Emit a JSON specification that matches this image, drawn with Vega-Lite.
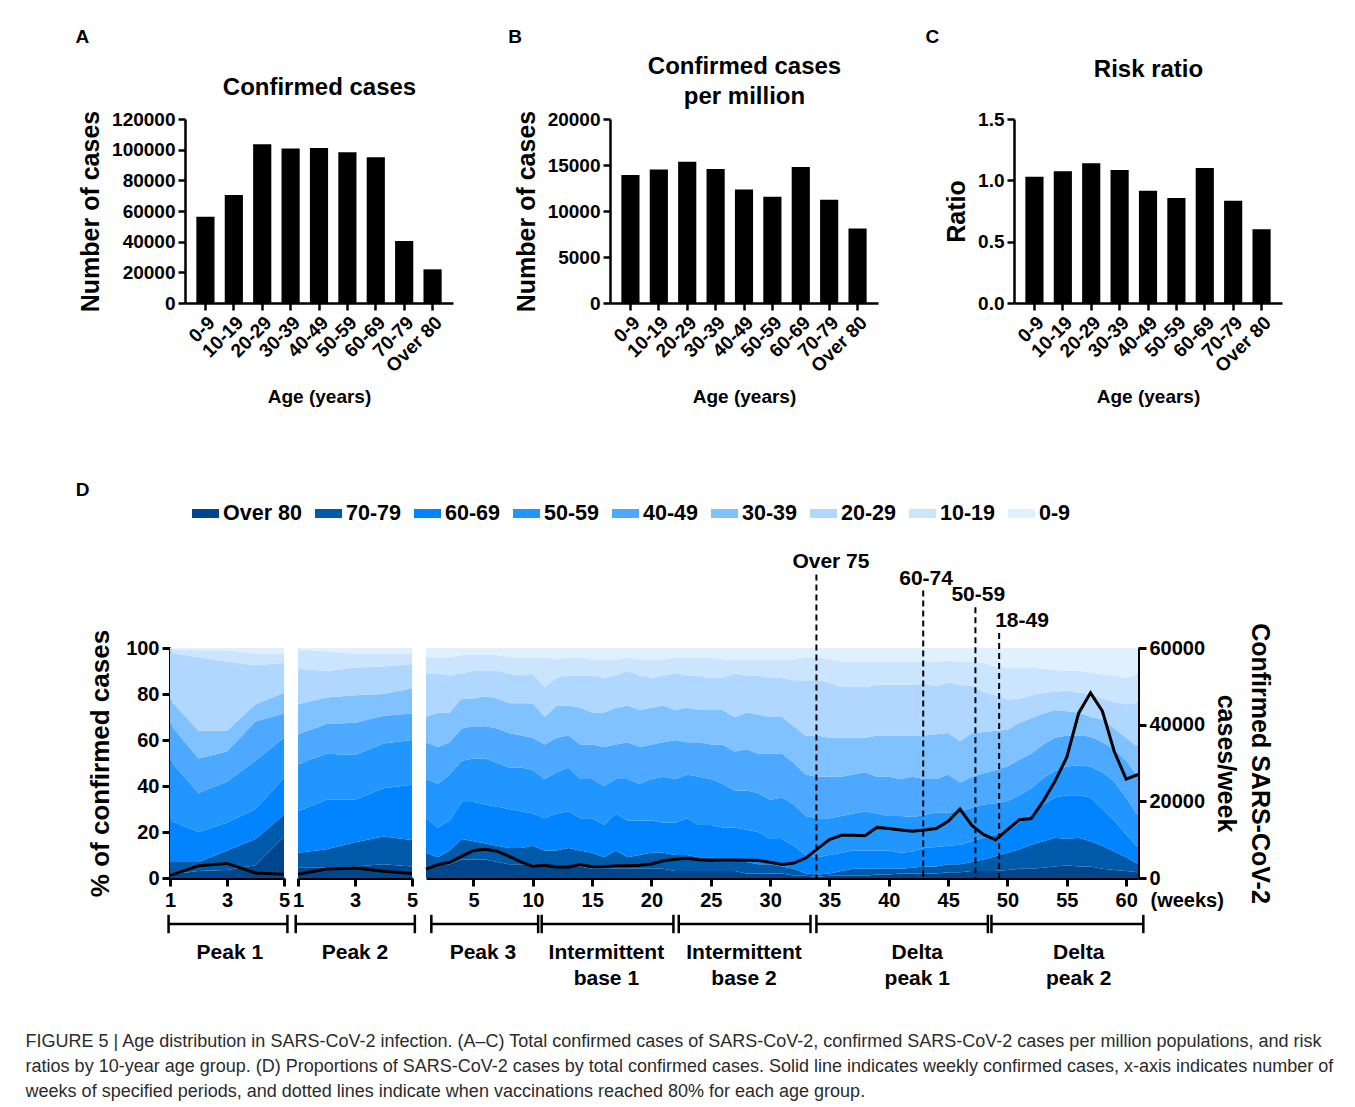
{
 "$schema": "https://vega.github.io/schema/vega-lite/v6.json",
 "background": "white",
 "padding": {"left": 25, "top": 28, "right": 5, "bottom": 5},
 "config": {
  "font": "Liberation Sans",
  "view": {"stroke": null},
  "axis": {"grid": false, "domainColor": "black", "domainWidth": 2.5, "tickColor": "black", "tickWidth": 2.5, "tickSize": 7, "labelFont": "Liberation Sans", "labelFontWeight": "bold", "labelColor": "black", "labelFontSize": 19, "labelFlush": false, "labelOverlap": false, "labelBound": false, "labelPadding": 3, "titleFont": "Liberation Sans", "titleFontWeight": "bold", "titleColor": "black"},
  "title": {"font": "Liberation Sans", "fontWeight": "bold", "color": "black", "fontSize": 19}
 },
 "title": {"text": ["FIGURE 5 | Age distribution in SARS-CoV-2 infection. (A–C) Total confirmed cases of SARS-CoV-2, confirmed SARS-CoV-2 cases per million populations, and risk", "ratios by 10-year age group. (D) Proportions of SARS-CoV-2 cases by total confirmed cases. Solid line indicates weekly confirmed cases, x-axis indicates number of", "weeks of specified periods, and dotted lines indicate when vaccinations reached 80% for each age group."], "orient": "bottom", "anchor": "start", "frame": "bounds", "fontSize": 18, "fontWeight": "normal", "color": "#2b2b2b", "lineHeight": 25, "offset": 44, "dx": -50},
 "datasets": {
  "ages": [
   {"age": "0-9", "cases": 56300, "pm": 13900, "rr": 1.03},
   {"age": "10-19", "cases": 70400, "pm": 14500, "rr": 1.075},
   {"age": "20-29", "cases": 103500, "pm": 15340, "rr": 1.14},
   {"age": "30-39", "cases": 100700, "pm": 14570, "rr": 1.085},
   {"age": "40-49", "cases": 101100, "pm": 12350, "rr": 0.915},
   {"age": "50-59", "cases": 98300, "pm": 11550, "rr": 0.855},
   {"age": "60-69", "cases": 95000, "pm": 14790, "rr": 1.1},
   {"age": "70-79", "cases": 40400, "pm": 11220, "rr": 0.833},
   {"age": "Over 80", "cases": 21960, "pm": 8090, "rr": 0.602}
  ],
  "shares": [
   {"s":"P1","w":1,"Over 80":1.5,"70-79":5.5,"60-69":18,"50-59":26,"40-49":16,"30-39":10.5,"20-29":20.5,"10-19":1.5,"0-9":0.5,"cases":700},
   {"s":"P1","w":2,"Over 80":3,"70-79":4,"60-69":13,"50-59":17,"40-49":15,"30-39":12,"20-29":32,"10-19":3,"0-9":1,"cases":3200},
   {"s":"P1","w":3,"Over 80":3.5,"70-79":8.5,"60-69":12,"50-59":18,"40-49":13,"30-39":9,"20-29":30,"10-19":5,"0-9":1,"cases":3800},
   {"s":"P1","w":4,"Over 80":5.5,"70-79":11.5,"60-69":13,"50-59":21,"40-49":17,"30-39":7.5,"20-29":17,"10-19":5,"0-9":2.5,"cases":1300},
   {"s":"P1","w":5,"Over 80":18,"70-79":9.5,"60-69":16,"50-59":17.5,"40-49":10.5,"30-39":9,"20-29":13,"10-19":4,"0-9":2.5,"cases":1000},
   {"s":"P2","w":1,"Over 80":4.5,"70-79":6.5,"60-69":18,"50-59":20.5,"40-49":13,"30-39":13,"20-29":15.5,"10-19":8.5,"0-9":0.5,"cases":1000},
   {"s":"P2","w":2,"Over 80":4.5,"70-79":8,"60-69":21.5,"50-59":20,"40-49":13,"30-39":11.5,"20-29":11.5,"10-19":8.5,"0-9":1.5,"cases":2350},
   {"s":"P2","w":3,"Over 80":5,"70-79":10.5,"60-69":18.5,"50-59":19.5,"40-49":14,"30-39":12,"20-29":12,"10-19":6,"0-9":2.5,"cases":2600},
   {"s":"P2","w":4,"Over 80":6,"70-79":12,"60-69":21,"50-59":19.5,"40-49":12,"30-39":9.5,"20-29":12,"10-19":5.5,"0-9":2.5,"cases":1750},
   {"s":"P2","w":5,"Over 80":5,"70-79":11.5,"60-69":24,"50-59":19.5,"40-49":11.5,"30-39":11,"20-29":10.5,"10-19":4.5,"0-9":2.5,"cases":1200},
   {"s":"M","w":1,"Over 80":5,"70-79":6,"60-69":15,"50-59":17,"40-49":16,"30-39":11,"20-29":19,"10-19":7,"0-9":4,"cases":2350},
   {"s":"M","w":2,"Over 80":6,"70-79":3,"60-69":13,"50-59":19,"40-49":16,"30-39":15,"20-29":17,"10-19":7,"0-9":4,"cases":3500},
   {"s":"M","w":3,"Over 80":6,"70-79":6,"60-69":13,"50-59":20,"40-49":14,"30-39":13,"20-29":16,"10-19":8,"0-9":4,"cases":4100},
   {"s":"M","w":4,"Over 80":8,"70-79":9,"60-69":16,"50-59":18,"40-49":14,"30-39":13,"20-29":11,"10-19":8,"0-9":3,"cases":5650},
   {"s":"M","w":5,"Over 80":8,"70-79":8,"60-69":17,"50-59":19,"40-49":14,"30-39":12,"20-29":12,"10-19":7,"0-9":3,"cases":7200},
   {"s":"M","w":6,"Over 80":8,"70-79":7,"60-69":17,"50-59":20,"40-49":14,"30-39":13,"20-29":11,"10-19":7,"0-9":3,"cases":7500},
   {"s":"M","w":7,"Over 80":7,"70-79":7,"60-69":17,"50-59":19,"40-49":15,"30-39":13,"20-29":12,"10-19":7,"0-9":3,"cases":7000},
   {"s":"M","w":8,"Over 80":6,"70-79":7,"60-69":17,"50-59":18,"40-49":15,"30-39":13,"20-29":13,"10-19":7,"0-9":4,"cases":5650},
   {"s":"M","w":9,"Over 80":6,"70-79":7,"60-69":16,"50-59":19,"40-49":14,"30-39":14,"20-29":12,"10-19":8,"0-9":4,"cases":4200},
   {"s":"M","w":10,"Over 80":6,"70-79":8,"60-69":14,"50-59":19,"40-49":14,"30-39":15,"20-29":13,"10-19":7,"0-9":4,"cases":3050},
   {"s":"M","w":11,"Over 80":5,"70-79":7,"60-69":14,"50-59":17,"40-49":15,"30-39":12,"20-29":13,"10-19":13,"0-9":4,"cases":3300},
   {"s":"M","w":12,"Over 80":5,"70-79":7,"60-69":16,"50-59":18,"40-49":15,"30-39":14,"20-29":12,"10-19":8,"0-9":5,"cases":2870},
   {"s":"M","w":13,"Over 80":5,"70-79":8,"60-69":16,"50-59":19,"40-49":14,"30-39":13,"20-29":13,"10-19":8,"0-9":4,"cases":2870},
   {"s":"M","w":14,"Over 80":5,"70-79":7,"60-69":14,"50-59":17,"40-49":15,"30-39":16,"20-29":14,"10-19":8,"0-9":4,"cases":3500},
   {"s":"M","w":15,"Over 80":4,"70-79":7,"60-69":15,"50-59":17,"40-49":15,"30-39":14,"20-29":16,"10-19":7,"0-9":5,"cases":2950},
   {"s":"M","w":16,"Over 80":4,"70-79":5,"60-69":14,"50-59":17,"40-49":17,"30-39":15,"20-29":15,"10-19":8,"0-9":5,"cases":2950},
   {"s":"M","w":17,"Over 80":4,"70-79":8,"60-69":16,"50-59":15,"40-49":15,"30-39":16,"20-29":14,"10-19":7,"0-9":5,"cases":3200},
   {"s":"M","w":18,"Over 80":4,"70-79":5,"60-69":16,"50-59":18,"40-49":16,"30-39":16,"20-29":15,"10-19":6,"0-9":4,"cases":3200},
   {"s":"M","w":19,"Over 80":4,"70-79":6,"60-69":15,"50-59":16,"40-49":16,"30-39":16,"20-29":15,"10-19":7,"0-9":5,"cases":3300},
   {"s":"M","w":20,"Over 80":4,"70-79":7,"60-69":14,"50-59":18,"40-49":15,"30-39":16,"20-29":13,"10-19":8,"0-9":5,"cases":3650},
   {"s":"M","w":21,"Over 80":4,"70-79":7,"60-69":13,"50-59":20,"40-49":15,"30-39":16,"20-29":13,"10-19":7,"0-9":5,"cases":4500},
   {"s":"M","w":22,"Over 80":3,"70-79":7,"60-69":14,"50-59":19,"40-49":17,"30-39":13,"20-29":16,"10-19":7,"0-9":4,"cases":4870},
   {"s":"M","w":23,"Over 80":3,"70-79":7,"60-69":16,"50-59":19,"40-49":14,"30-39":15,"20-29":14,"10-19":8,"0-9":4,"cases":5130},
   {"s":"M","w":24,"Over 80":3,"70-79":6,"60-69":14,"50-59":21,"40-49":15,"30-39":14,"20-29":15,"10-19":8,"0-9":4,"cases":4780},
   {"s":"M","w":25,"Over 80":3,"70-79":6,"60-69":14,"50-59":20,"40-49":15,"30-39":15,"20-29":14,"10-19":9,"0-9":4,"cases":4600},
   {"s":"M","w":26,"Over 80":3,"70-79":5,"60-69":14,"50-59":19,"40-49":17,"30-39":15,"20-29":14,"10-19":8,"0-9":5,"cases":4700},
   {"s":"M","w":27,"Over 80":3,"70-79":5,"60-69":14,"50-59":16,"40-49":17,"30-39":15,"20-29":19,"10-19":6,"0-9":5,"cases":4700},
   {"s":"M","w":28,"Over 80":2,"70-79":5,"60-69":14,"50-59":17,"40-49":18,"30-39":16,"20-29":16,"10-19":7,"0-9":5,"cases":4600},
   {"s":"M","w":29,"Over 80":2,"70-79":4,"60-69":14,"50-59":17,"40-49":17,"30-39":17,"20-29":17,"10-19":7,"0-9":5,"cases":4600},
   {"s":"M","w":30,"Over 80":2,"70-79":4,"60-69":11,"50-59":17,"40-49":20,"30-39":16,"20-29":17,"10-19":8,"0-9":5,"cases":4100},
   {"s":"M","w":31,"Over 80":2,"70-79":3,"60-69":12,"50-59":18,"40-49":19,"30-39":16,"20-29":17,"10-19":8,"0-9":5,"cases":3500},
   {"s":"M","w":32,"Over 80":1,"70-79":3,"60-69":10,"50-59":18,"40-49":18,"30-39":16,"20-29":20,"10-19":9,"0-9":5,"cases":3900},
   {"s":"M","w":33,"Over 80":1,"70-79":1,"60-69":8,"50-59":17,"40-49":18,"30-39":17,"20-29":24,"10-19":10,"0-9":4,"cases":5200},
   {"s":"M","w":34,"Over 80":0.5,"70-79":1,"60-69":7.5,"50-59":17,"40-49":18,"30-39":18,"20-29":24,"10-19":10,"0-9":4,"cases":7650},
   {"s":"M","w":35,"Over 80":1,"70-79":1,"60-69":8,"50-59":16,"40-49":18,"30-39":17,"20-29":24,"10-19":10,"0-9":5,"cases":10000},
   {"s":"M","w":36,"Over 80":1,"70-79":2,"60-69":8,"50-59":16,"40-49":17,"30-39":17,"20-29":22,"10-19":11,"0-9":6,"cases":11150},
   {"s":"M","w":37,"Over 80":1,"70-79":3,"60-69":8,"50-59":16,"40-49":17,"30-39":16,"20-29":22,"10-19":11,"0-9":6,"cases":11150},
   {"s":"M","w":38,"Over 80":1,"70-79":3,"60-69":8,"50-59":17,"40-49":17,"30-39":15,"20-29":22,"10-19":11,"0-9":6,"cases":11000},
   {"s":"M","w":39,"Over 80":1.5,"70-79":2.5,"60-69":8,"50-59":16,"40-49":16,"30-39":18,"20-29":22,"10-19":10,"0-9":6,"cases":13200},
   {"s":"M","w":40,"Over 80":1.5,"70-79":2.5,"60-69":8,"50-59":15,"40-49":17,"30-39":18,"20-29":22,"10-19":10,"0-9":6,"cases":12900},
   {"s":"M","w":41,"Over 80":2,"70-79":2,"60-69":7,"50-59":16,"40-49":16,"30-39":19,"20-29":22,"10-19":10,"0-9":6,"cases":12500},
   {"s":"M","w":42,"Over 80":2,"70-79":2.5,"60-69":7,"50-59":15,"40-49":17.5,"30-39":18,"20-29":22,"10-19":10,"0-9":6,"cases":12200},
   {"s":"M","w":43,"Over 80":2,"70-79":3,"60-69":8,"50-59":14.5,"40-49":15.5,"30-39":19,"20-29":22.5,"10-19":9.5,"0-9":6,"cases":12500},
   {"s":"M","w":44,"Over 80":2,"70-79":3,"60-69":8.5,"50-59":15,"40-49":14.5,"30-39":19.5,"20-29":21,"10-19":10.5,"0-9":6,"cases":12900},
   {"s":"M","w":45,"Over 80":2.5,"70-79":3.5,"60-69":8,"50-59":14.5,"40-49":16.5,"30-39":18,"20-29":22,"10-19":9.5,"0-9":5.5,"cases":14800},
   {"s":"M","w":46,"Over 80":2.5,"70-79":3.5,"60-69":8.5,"50-59":14.5,"40-49":12.5,"30-39":18,"20-29":24.5,"10-19":10,"0-9":6,"cases":18000},
   {"s":"M","w":47,"Over 80":3,"70-79":4,"60-69":9,"50-59":14.5,"40-49":13.5,"30-39":19,"20-29":20.5,"10-19":10.5,"0-9":6,"cases":13700},
   {"s":"M","w":48,"Over 80":3,"70-79":5,"60-69":9.5,"50-59":14.5,"40-49":13.5,"30-39":18,"20-29":17.5,"10-19":12.5,"0-9":6.5,"cases":11300},
   {"s":"M","w":49,"Over 80":3,"70-79":6.5,"60-69":9.5,"50-59":13.5,"40-49":14.5,"30-39":17,"20-29":15.5,"10-19":12.5,"0-9":8,"cases":10000},
   {"s":"M","w":50,"Over 80":3.5,"70-79":7.5,"60-69":10,"50-59":12.5,"40-49":15,"30-39":16,"20-29":13,"10-19":14,"0-9":8.5,"cases":12600},
   {"s":"M","w":51,"Over 80":4,"70-79":8.5,"60-69":11.5,"50-59":12,"40-49":15.5,"30-39":16,"20-29":10.5,"10-19":13.5,"0-9":8.5,"cases":15200},
   {"s":"M","w":52,"Over 80":4,"70-79":10.5,"60-69":13,"50-59":11.5,"40-49":15,"30-39":15.5,"20-29":10,"10-19":12,"0-9":8.5,"cases":15500},
   {"s":"M","w":53,"Over 80":4.5,"70-79":11.5,"60-69":16,"50-59":11.5,"40-49":14.5,"30-39":13.5,"20-29":9,"10-19":10.5,"0-9":9,"cases":20000},
   {"s":"M","w":54,"Over 80":5,"70-79":12.5,"60-69":17.5,"50-59":11.5,"40-49":14.5,"30-39":12,"20-29":8,"10-19":9.5,"0-9":9.5,"cases":25200},
   {"s":"M","w":55,"Over 80":5.5,"70-79":11.5,"60-69":19,"50-59":12.5,"40-49":13.5,"30-39":10.5,"20-29":9,"10-19":8.5,"0-9":10,"cases":31500},
   {"s":"M","w":56,"Over 80":5,"70-79":12.5,"60-69":18.5,"50-59":13,"40-49":13,"30-39":10,"20-29":8.5,"10-19":9.5,"0-9":10,"cases":43000},
   {"s":"M","w":57,"Over 80":5,"70-79":11,"60-69":19,"50-59":13.5,"40-49":13,"30-39":8.5,"20-29":10,"10-19":9.5,"0-9":10.5,"cases":48300},
   {"s":"M","w":58,"Over 80":4,"70-79":10,"60-69":16,"50-59":16,"40-49":13,"30-39":10,"20-29":9,"10-19":10.5,"0-9":11.5,"cases":43500},
   {"s":"M","w":59,"Over 80":3.5,"70-79":8,"60-69":13.5,"50-59":17,"40-49":14,"30-39":9,"20-29":11.5,"10-19":11.5,"0-9":12,"cases":33000},
   {"s":"M","w":60,"Over 80":3,"70-79":6,"60-69":10,"50-59":16,"40-49":16,"30-39":10,"20-29":14.5,"10-19":11.5,"0-9":13,"cases":25800},
   {"s":"M","w":61,"Over 80":2.5,"70-79":3.5,"60-69":7,"50-59":14,"40-49":17,"30-39":13,"20-29":19,"10-19":12.5,"0-9":11.5,"cases":27000}
  ],
  "periods": [
   {"s": "P1", "label": "Peak 1", "a": 0.95, "b": 5.12, "mid": 3.1},
   {"s": "P2", "label": "Peak 2", "a": 0.92, "b": 5.1, "mid": 3.0},
   {"s": "M", "label": "Peak 3", "a": 1.45, "b": 10.45, "mid": 5.8},
   {"s": "M", "label": "Intermittent\nbase 1", "a": 10.75, "b": 21.85, "mid": 16.2},
   {"s": "M", "label": "Intermittent\nbase 2", "a": 22.3, "b": 33.4, "mid": 27.8},
   {"s": "M", "label": "Delta\npeak 1", "a": 33.9, "b": 48.35, "mid": 42.4},
   {"s": "M", "label": "Delta\npeak 2", "a": 48.65, "b": 61.45, "mid": 56}
  ],
  "vacc": [
   {"label": "Over 75", "w": 33.9, "top": 132},
   {"label": "60-74", "w": 42.9, "top": 125},
   {"label": "50-59", "w": 47.3, "top": 117.7},
   {"label": "18-49", "w": 49.3, "top": 106.5}
  ]
 },
 "resolve": {"legend": {"color": "independent"}},
 "spacing": 74,
 "vconcat": [
  {
   "hconcat": [
    {
     "title": {"text": "A", "anchor": "start", "frame": "bounds", "offset": 28, "dx": -3},
     "width": 283, "height": 184,
     "data": {"name": "ages"},
     "layer": [
      {"mark": {"type": "bar", "color": "black"},
       "encoding": {
        "x": {"field": "age", "type": "nominal", "sort": null, "scale": {"paddingInner": 0.36, "paddingOuter": 0.4, "range": [15, 283]}, "axis": {"title": "Age (years)", "labelAngle": -45, "labelFontSize": 19, "titleFontSize": 19, "titlePadding": 12}},
        "y": {"field": "cases", "type": "quantitative", "scale": {"domain": [0, 120000]}, "axis": {"title": "Number of cases", "values": [0, 20000, 40000, 60000, 80000, 100000, 120000], "format": "d", "titleFontSize": 25, "titlePadding": 8, "labelOverlap": false, "labelSeparation": 0, "offset": -15}}
       }},
      {"mark": {"type": "rule", "opacity": 0},
       "encoding": {
        "x": {"field": "age", "type": "nominal", "sort": null, "axis": {"orient": "top", "title": "Confirmed cases", "domain": false, "ticks": false, "labels": false, "titleFontSize": 24, "titleY": -25, "titleBaseline": "alphabetic"}}
       }}
     ],
     "resolve": {"axis": {"x": "independent"}}
    },
    {
     "title": {"text": "B", "anchor": "start", "frame": "bounds", "offset": 7, "dx": -6},
     "width": 289, "height": 184,
     "data": {"name": "ages"},
     "layer": [
      {"mark": {"type": "bar", "color": "black"},
       "encoding": {
        "x": {"field": "age", "type": "nominal", "sort": null, "scale": {"paddingInner": 0.36, "paddingOuter": 0.4, "range": [21, 289]}, "axis": {"title": "Age (years)", "labelAngle": -45, "labelFontSize": 19, "titleFontSize": 19, "titlePadding": 12}},
        "y": {"field": "pm", "type": "quantitative", "scale": {"domain": [0, 20000]}, "axis": {"title": "Number of cases", "values": [0, 5000, 10000, 15000, 20000], "format": "d", "titleFontSize": 25, "titlePadding": 8, "labelOverlap": false, "offset": -21}}
       }},
      {"mark": {"type": "rule", "opacity": 0},
       "encoding": {
        "x": {"field": "age", "type": "nominal", "sort": null, "axis": {"orient": "top", "title": ["Confirmed cases", "per million"], "domain": false, "ticks": false, "labels": false, "titleFontSize": 24, "titleY": -46, "titleLineHeight": 30, "titleBaseline": "alphabetic"}}
       }}
     ],
     "resolve": {"axis": {"x": "independent"}}
    },
    {
     "title": {"text": "C", "anchor": "start", "frame": "bounds", "offset": 10, "dx": -19},
     "width": 268, "height": 184,
     "data": {"name": "ages"},
     "layer": [
      {"mark": {"type": "bar", "color": "black"},
       "encoding": {
        "x": {"field": "age", "type": "nominal", "sort": null, "scale": {"paddingInner": 0.36, "paddingOuter": 0.4}, "axis": {"title": "Age (years)", "labelAngle": -45, "labelFontSize": 19, "titleFontSize": 19, "titlePadding": 12}},
        "y": {"field": "rr", "type": "quantitative", "scale": {"domain": [0, 1.5]}, "axis": {"title": "Ratio", "values": [0, 0.5, 1, 1.5], "format": ".1f", "titleFontSize": 25, "titlePadding": 8, "labelOverlap": false}}
       }},
      {"mark": {"type": "rule", "opacity": 0},
       "encoding": {
        "x": {"field": "age", "type": "nominal", "sort": null, "axis": {"orient": "top", "title": "Risk ratio", "domain": false, "ticks": false, "labels": false, "titleFontSize": 24, "titleY": -43, "titleBaseline": "alphabetic"}}
       }}
     ],
     "resolve": {"axis": {"x": "independent"}}
    }
   ],
   "spacing": 136,
   "bounds": "flush"
  },
  {
   "title": {"text": "D", "anchor": "start", "frame": "bounds", "offset": 0, "dx": -12},
   "spacing": 14,
   "bounds": "flush",
   "hconcat": [
    {
     "width": 114, "height": 230,
     "layer": [
      {"layer": [
        {"data": {"name": "shares"},
         "transform": [{"filter": "datum.s == 'P1'"}, {"fold": ["Over 80", "70-79", "60-69", "50-59", "40-49", "30-39", "20-29", "10-19", "0-9"], "as": ["group", "pct"]}],
         "mark": {"type": "area", "opacity": 1},
         "encoding": {
          "x": {"field": "w", "type": "quantitative", "scale": {"domain": [1, 5], "nice": false, "zero": false}, "axis": {"values": [1, 3, 5], "title": null, "labelFontSize": 20, "tickSize": 8, "domainWidth": 3, "tickWidth": 3, "labelPadding": 4}},
          "y": {"field": "pct", "type": "quantitative", "stack": "zero", "scale": {"domain": [0, 100], "nice": false}, "axis": {"values": [0, 20, 40, 60, 80, 100], "title": "% of confirmed cases", "titleFontSize": 26, "labelFontSize": 20, "tickSize": 8, "domainWidth": 3, "tickWidth": 3, "titlePadding": 12}},
          "color": {"field": "group", "type": "nominal", "scale": {"domain": ["Over 80", "70-79", "60-69", "50-59", "40-49", "30-39", "20-29", "10-19", "0-9"], "range": ["#00468c", "#005aaa", "#0084ff", "#2196ff", "#4da8ff", "#80c1ff", "#b0d7ff", "#cce5ff", "#e1f0ff"]}, "legend": {"orient": "none", "legendX": 22, "legendY": -148, "direction": "horizontal", "title": null, "symbolType": "M-1,-0.333H1V0.333H-1Z", "symbolSize": 729, "symbolStrokeWidth": 0, "labelFontSize": 21.5, "labelFontWeight": "bold", "labelFont": "Liberation Sans", "labelColor": "black", "columnPadding": 13, "labelOffset": 4}}
         }},
        {"data": {"name": "periods"}, "transform": [{"filter": "datum.s == 'P1'"}],
         "mark": {"type": "rule", "color": "black", "strokeWidth": 2.5},
         "encoding": {"x": {"field": "a", "type": "quantitative", "scale": {"domain": [1, 5], "nice": false, "zero": false}}, "x2": {"field": "b"}, "y": {"datum": -20, "scale": {"domain": [0, 100], "nice": false}}}},
        {"data": {"name": "periods"}, "transform": [{"filter": "datum.s == 'P1'"}],
         "mark": {"type": "rule", "color": "black", "strokeWidth": 2.5},
         "encoding": {"x": {"field": "a", "type": "quantitative"}, "y": {"datum": -16}, "y2": {"datum": -24}}},
        {"data": {"name": "periods"}, "transform": [{"filter": "datum.s == 'P1'"}],
         "mark": {"type": "rule", "color": "black", "strokeWidth": 2.5},
         "encoding": {"x": {"field": "b", "type": "quantitative"}, "y": {"datum": -16}, "y2": {"datum": -24}}},
        {"data": {"name": "periods"}, "transform": [{"filter": "datum.s == 'P1'"}],
         "mark": {"type": "text", "fontSize": 21, "fontWeight": "bold", "font": "Liberation Sans", "baseline": "top", "lineBreak": "\n", "lineHeight": 26, "align": "center", "color": "black"},
         "encoding": {"x": {"field": "mid", "type": "quantitative"}, "y": {"datum": -28}, "text": {"field": "label"}}}
      ]},
      {"data": {"name": "shares"}, "transform": [{"filter": "datum.s == 'P1'"}],
       "mark": {"type": "line", "color": "black", "strokeWidth": 3},
       "encoding": {"x": {"field": "w", "type": "quantitative"}, "y": {"field": "cases", "type": "quantitative", "scale": {"domain": [0, 60000]}, "axis": null}}}
     ],
     "resolve": {"scale": {"y": "independent"}}
    },
    {
     "width": 114, "height": 230,
     "layer": [
      {"layer": [
        {"data": {"name": "shares"},
         "transform": [{"filter": "datum.s == 'P2'"}, {"fold": ["Over 80", "70-79", "60-69", "50-59", "40-49", "30-39", "20-29", "10-19", "0-9"], "as": ["group", "pct"]}],
         "mark": {"type": "area", "opacity": 1},
         "encoding": {
          "x": {"field": "w", "type": "quantitative", "scale": {"domain": [1, 5], "nice": false, "zero": false}, "axis": {"values": [1, 3, 5], "title": null, "labelFontSize": 20, "tickSize": 8, "domainWidth": 3, "tickWidth": 3, "labelPadding": 4}},
          "y": {"field": "pct", "type": "quantitative", "stack": "zero", "scale": {"domain": [0, 100], "nice": false}, "axis": null},
          "color": {"field": "group", "type": "nominal", "scale": {"domain": ["Over 80", "70-79", "60-69", "50-59", "40-49", "30-39", "20-29", "10-19", "0-9"], "range": ["#00468c", "#005aaa", "#0084ff", "#2196ff", "#4da8ff", "#80c1ff", "#b0d7ff", "#cce5ff", "#e1f0ff"]}, "legend": {"orient": "none", "legendX": 22, "legendY": -148, "direction": "horizontal", "title": null, "symbolType": "M-1,-0.333H1V0.333H-1Z", "symbolSize": 729, "symbolStrokeWidth": 0, "labelFontSize": 21.5, "labelFontWeight": "bold", "labelFont": "Liberation Sans", "labelColor": "black", "columnPadding": 13, "labelOffset": 4}}
         }},
        {"data": {"name": "periods"}, "transform": [{"filter": "datum.s == 'P2'"}],
         "mark": {"type": "rule", "color": "black", "strokeWidth": 2.5},
         "encoding": {"x": {"field": "a", "type": "quantitative", "scale": {"domain": [1, 5], "nice": false, "zero": false}}, "x2": {"field": "b"}, "y": {"datum": -20, "scale": {"domain": [0, 100], "nice": false}, "axis": null}}},
        {"data": {"name": "periods"}, "transform": [{"filter": "datum.s == 'P2'"}],
         "mark": {"type": "rule", "color": "black", "strokeWidth": 2.5},
         "encoding": {"x": {"field": "a", "type": "quantitative"}, "y": {"datum": -16, "axis": null}, "y2": {"datum": -24}}},
        {"data": {"name": "periods"}, "transform": [{"filter": "datum.s == 'P2'"}],
         "mark": {"type": "rule", "color": "black", "strokeWidth": 2.5},
         "encoding": {"x": {"field": "b", "type": "quantitative"}, "y": {"datum": -16, "axis": null}, "y2": {"datum": -24}}},
        {"data": {"name": "periods"}, "transform": [{"filter": "datum.s == 'P2'"}],
         "mark": {"type": "text", "fontSize": 21, "fontWeight": "bold", "font": "Liberation Sans", "baseline": "top", "lineBreak": "\n", "lineHeight": 26, "align": "center", "color": "black"},
         "encoding": {"x": {"field": "mid", "type": "quantitative"}, "y": {"datum": -28, "axis": null}, "text": {"field": "label"}}}
      ]},
      {"data": {"name": "shares"}, "transform": [{"filter": "datum.s == 'P2'"}],
       "mark": {"type": "line", "color": "black", "strokeWidth": 3},
       "encoding": {"x": {"field": "w", "type": "quantitative"}, "y": {"field": "cases", "type": "quantitative", "scale": {"domain": [0, 60000]}, "axis": null}}}
     ],
     "resolve": {"scale": {"y": "independent"}}
    },
    {
     "width": 712, "height": 230,
     "layer": [
      {"layer": [
        {"data": {"name": "shares"},
         "transform": [{"filter": "datum.s == 'M'"}, {"fold": ["Over 80", "70-79", "60-69", "50-59", "40-49", "30-39", "20-29", "10-19", "0-9"], "as": ["group", "pct"]}],
         "mark": {"type": "area", "opacity": 1},
         "encoding": {
          "x": {"field": "w", "type": "quantitative", "scale": {"domain": [1, 61], "nice": false, "zero": false}, "axis": {"values": [5, 10, 15, 20, 25, 30, 35, 40, 45, 50, 55, 60], "title": "(weeks)", "titleX": 724, "titleY": 12, "titleAlign": "left", "titleBaseline": "top", "titleFontSize": 20, "labelFontSize": 20, "tickSize": 8, "domainWidth": 3, "tickWidth": 3, "labelPadding": 4}},
          "y": {"field": "pct", "type": "quantitative", "stack": "zero", "scale": {"domain": [0, 100], "nice": false}, "axis": null},
          "color": {"field": "group", "type": "nominal", "scale": {"domain": ["Over 80", "70-79", "60-69", "50-59", "40-49", "30-39", "20-29", "10-19", "0-9"], "range": ["#00468c", "#005aaa", "#0084ff", "#2196ff", "#4da8ff", "#80c1ff", "#b0d7ff", "#cce5ff", "#e1f0ff"]}, "legend": {"orient": "none", "legendX": 22, "legendY": -148, "direction": "horizontal", "title": null, "symbolType": "M-1,-0.333H1V0.333H-1Z", "symbolSize": 729, "symbolStrokeWidth": 0, "labelFontSize": 21.5, "labelFontWeight": "bold", "labelFont": "Liberation Sans", "labelColor": "black", "columnPadding": 13, "labelOffset": 4}}
         }},
        {"data": {"name": "periods"}, "transform": [{"filter": "datum.s == 'M'"}],
         "mark": {"type": "rule", "color": "black", "strokeWidth": 2.5},
         "encoding": {"x": {"field": "a", "type": "quantitative", "scale": {"domain": [1, 61], "nice": false, "zero": false}}, "x2": {"field": "b"}, "y": {"datum": -20, "scale": {"domain": [0, 100], "nice": false}, "axis": null}}},
        {"data": {"name": "periods"}, "transform": [{"filter": "datum.s == 'M'"}],
         "mark": {"type": "rule", "color": "black", "strokeWidth": 2.5},
         "encoding": {"x": {"field": "a", "type": "quantitative"}, "y": {"datum": -16, "axis": null}, "y2": {"datum": -24}}},
        {"data": {"name": "periods"}, "transform": [{"filter": "datum.s == 'M'"}],
         "mark": {"type": "rule", "color": "black", "strokeWidth": 2.5},
         "encoding": {"x": {"field": "b", "type": "quantitative"}, "y": {"datum": -16, "axis": null}, "y2": {"datum": -24}}},
        {"data": {"name": "periods"}, "transform": [{"filter": "datum.s == 'M'"}],
         "mark": {"type": "text", "fontSize": 21, "fontWeight": "bold", "font": "Liberation Sans", "baseline": "top", "lineBreak": "\n", "lineHeight": 26, "align": "center", "color": "black"},
         "encoding": {"x": {"field": "mid", "type": "quantitative"}, "y": {"datum": -28, "axis": null}, "text": {"field": "label"}}},
        {"data": {"name": "vacc"},
         "mark": {"type": "rule", "color": "black", "strokeWidth": 2, "strokeDash": [6, 4]},
         "encoding": {"x": {"field": "w", "type": "quantitative"}, "y": {"field": "top", "type": "quantitative", "axis": null}, "y2": {"datum": 0}}},
        {"data": {"name": "vacc"}, "transform": [{"filter": "datum.label != '18-49'"}],
         "mark": {"type": "text", "fontSize": 21, "fontWeight": "bold", "font": "Liberation Sans", "baseline": "alphabetic", "dy": -6, "dx": -24, "align": "left", "color": "black"},
         "encoding": {"x": {"field": "w", "type": "quantitative"}, "y": {"field": "top", "type": "quantitative", "axis": null}, "text": {"field": "label"}}},
        {"data": {"name": "vacc"}, "transform": [{"filter": "datum.label == '18-49'"}],
         "mark": {"type": "text", "fontSize": 21, "fontWeight": "bold", "font": "Liberation Sans", "baseline": "alphabetic", "dy": -6, "dx": -4, "align": "left", "color": "black"},
         "encoding": {"x": {"field": "w", "type": "quantitative"}, "y": {"field": "top", "type": "quantitative", "axis": null}, "text": {"field": "label"}}}
      ]},
      {"data": {"name": "shares"}, "transform": [{"filter": "datum.s == 'M'"}],
       "mark": {"type": "line", "color": "black", "strokeWidth": 3},
       "encoding": {"x": {"field": "w", "type": "quantitative"}, "y": {"field": "cases", "type": "quantitative", "scale": {"domain": [0, 60000]}, "axis": {"orient": "right", "values": [0, 20000, 40000, 60000], "format": "d", "title": ["Confirmed SARS-CoV-2", "cases/week"], "titleFontSize": 25, "labelFontSize": 20, "tickSize": 8, "domainWidth": 3, "tickWidth": 3, "titlePadding": 8, "titleLineHeight": 34}}}}
     ],
     "resolve": {"scale": {"y": "independent"}}
    }
   ]
  }
 ]
}
